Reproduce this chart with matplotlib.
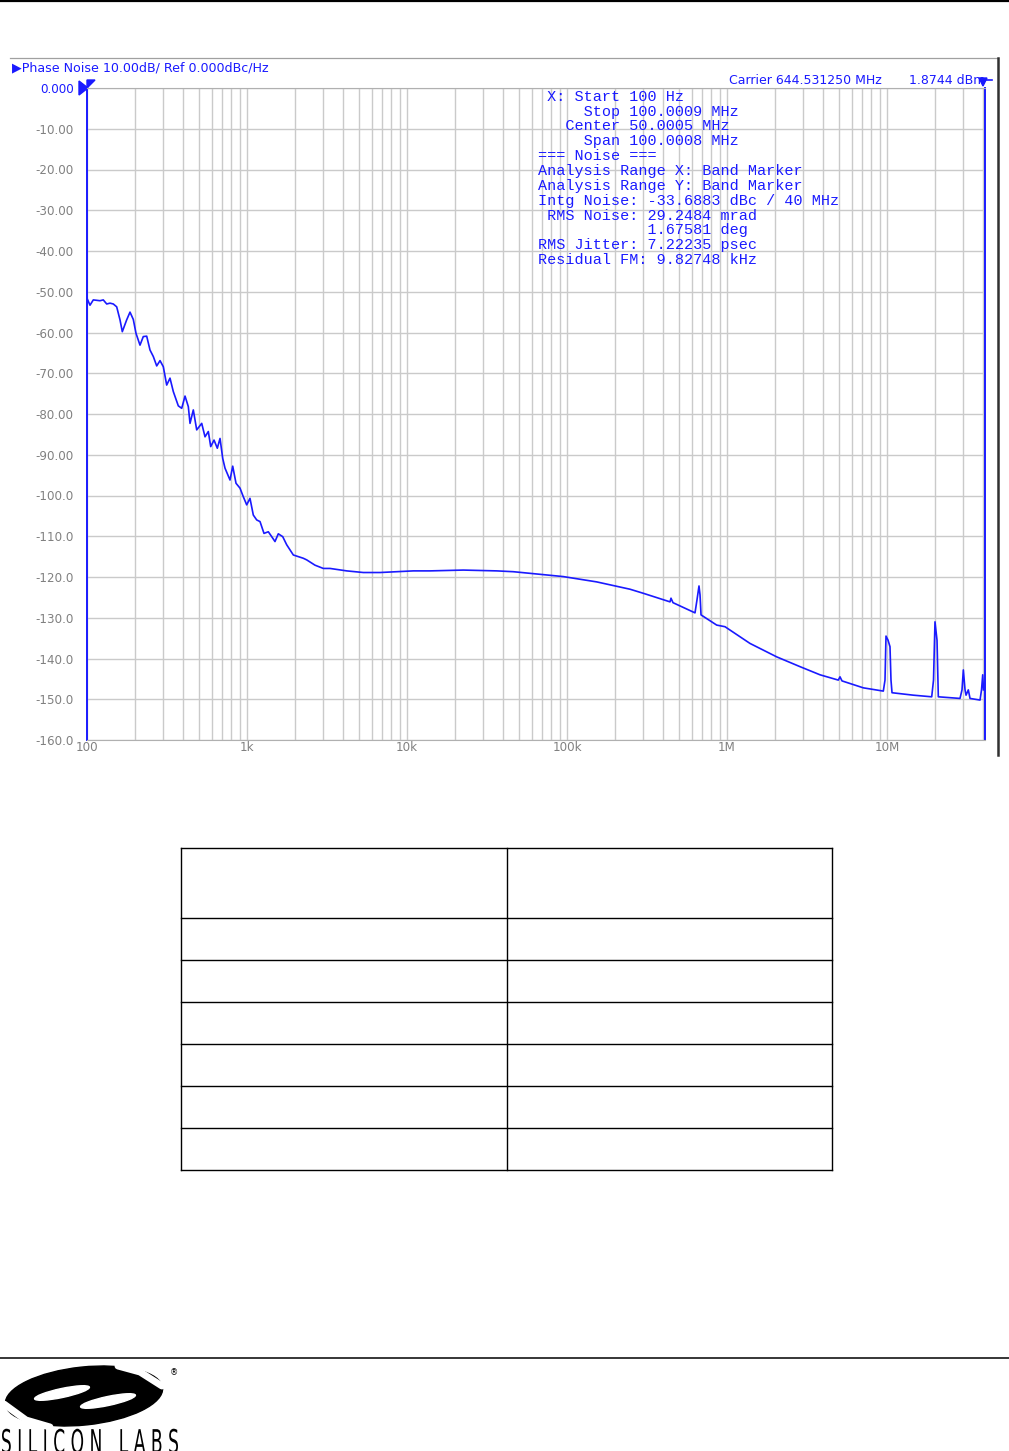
import matplotlib
matplotlib.use("Agg")
import matplotlib.pyplot as plt
from matplotlib.patches import Ellipse, Polygon, PathPatch
from matplotlib.textpath import TextPath
from matplotlib.font_manager import FontProperties
from matplotlib.transforms import Affine2D
from matplotlib.ticker import FixedLocator, LogLocator, NullFormatter

W, H = 1009, 1451

# phase noise trace
freq_hz = [100, 104.4, 109.5, 120.6, 126.4, 132.8, 139.3, 146.0, 153.3, 160.8,
           166.2, 177.0, 185.7, 194.7, 202.4, 214.4, 224.8, 236.1, 247.6, 259.7,
           272.7, 286.0, 299.9, 314.8, 330.2, 346.3, 372.1, 390.8, 409.9, 429.8,
           440.4, 461.8, 484.9, 521.2, 546.5, 573.1, 593.2, 622.2, 652.4, 678.3,
           705.1, 728.8, 783.1, 814.1, 853.7, 904.3, 948.2, 995.7, 1044, 1095,
           1150, 1206, 1277, 1359, 1427, 1496, 1569, 1672, 1771, 1948,
           2248, 2361, 2661, 2999, 3303, 4199, 5333, 6781, 8620, 10950,
           13920, 22480, 36360, 46170, 58720, 74660, 94830, 153300, 247600, 299900,
           440400, 446700, 459700, 631000, 649400, 668300, 678300, 688100, 862000, 971600,
           1.392e6, 2.045e6, 2.859e6, 3.814e6, 4.962e6, 5.085e6, 5.234e6, 7.111e6, 9.483e6, 9.716e6,
           9.857e6, 1.015e7, 1.044e7, 1.059e7, 1.075e7, 1.460e7, 1.903e7, 1.953e7, 1.995e7, 2.054e7,
           2.093e7, 2.859e7, 2.943e7, 3.0e7, 3.074e7, 3.119e7, 3.223e7, 3.303e7, 3.814e7, 3.897e7,
           3.965e7, 4.011e7]
pn_dbc = [-51.6, -53.3, -52.0, -52.2, -52.0, -53.0, -52.8, -53.0, -53.7, -56.9,
          -59.8, -56.9, -55.0, -56.8, -60.2, -63.1, -61.0, -60.9, -64.3, -65.9,
          -68.2, -66.9, -68.4, -72.9, -71.2, -74.5, -78.0, -78.6, -75.6, -78.2,
          -82.3, -79.0, -83.9, -82.3, -85.6, -84.3, -88.0, -86.4, -88.4, -86.0,
          -90.9, -93.3, -96.2, -92.8, -97.0, -98.2, -100.3, -102.3, -100.7, -104.8,
          -106.0, -106.4, -109.3, -108.9, -110.1, -111.3, -109.4, -110.1, -112.1, -114.6,
          -115.4, -115.8, -117.1, -117.9, -117.9, -118.5, -118.9, -118.9, -118.7, -118.5,
          -118.5, -118.3, -118.5, -118.7, -119.1, -119.5, -119.9, -121.2, -123.0, -124.0,
          -126.1, -125.2, -126.3, -128.8, -125.6, -122.2, -124.4, -129.3, -131.8, -132.2,
          -136.3, -139.6, -142.0, -144.0, -145.3, -144.5, -145.5, -147.2, -148.0, -145.3,
          -134.5, -135.5, -137.1, -145.3, -148.4, -149.0, -149.4, -145.3, -131.0, -135.5,
          -149.4, -149.8, -147.7, -142.8, -147.7, -149.0, -147.7, -149.8, -150.2, -147.7,
          -144.0, -147.7]

y_ticks = [0, -10, -20, -30, -40, -50, -60, -70, -80, -90,
           -100, -110, -120, -130, -140, -150, -160]
y_labels = ["0.000", "-10.00", "-20.00", "-30.00", "-40.00", "-50.00", "-60.00",
            "-70.00", "-80.00", "-90.00", "-100.0", "-110.0", "-120.0", "-130.0",
            "-140.0", "-150.0", "-160.0"]
x_ticks = [1e2, 1e3, 1e4, 1e5, 1e6, 1e7]
x_labels = ["100", "1k", "10k", "100k", "1M", "10M"]

marker_lines = [" X: Start 100 Hz",
                "     Stop 100.0009 MHz",
                "   Center 50.0005 MHz",
                "     Span 100.0008 MHz",
                "=== Noise ===",
                "Analysis Range X: Band Marker",
                "Analysis Range Y: Band Marker",
                "Intg Noise: -33.6883 dBc / 40 MHz",
                " RMS Noise: 29.2484 mrad",
                "            1.67581 deg",
                "RMS Jitter: 7.22235 psec",
                "Residual FM: 9.82748 kHz"]

table_rows = [70, 42, 42, 42, 42, 42, 42]
table_cols = [326, 325]

blue = "#1a1aff"
grid_c = "#cacaca"


def px(x, y):
    # page pixel -> figure fraction
    return x / W, 1 - y / H


fig = plt.figure(figsize=(W / 100, H / 100), dpi=100)

# page layer in pixel coordinates
page = fig.add_axes([0, 0, 1, 1])
page.set_xlim(0, W)
page.set_ylim(H, 0)
page.axis("off")

page.plot([0, W], [1, 1], color="black", lw=1.6)
page.plot([0, W], [1358, 1358], color="black", lw=1.1)

# instrument screen frame
page.plot([10, 998], [58, 58], color="#a0a0a0", lw=0.9)
page.plot([998, 998], [58, 755], color="#303030", lw=1.8)

page.text(12, 68, "\u25b6Phase Noise 10.00dB/ Ref 0.000dBc/Hz", color=blue,
          fontsize=9.1, va="center", ha="left")
page.text(729, 81, "Carrier 644.531250 MHz", color=blue, fontsize=9.0,
          va="center", ha="left")
page.text(985, 81, "1.8744 dBm", color=blue, fontsize=9.0, va="center", ha="right")
page.plot([980, 992], [80, 80], color=blue, lw=1.2)
page.add_patch(Polygon([[979, 78], [987, 78], [983, 86]], closed=True, color=blue))
page.add_patch(Polygon([[79, 81], [79, 95], [88, 88]], closed=True, color=blue))
page.add_patch(Polygon([[87, 80], [95, 80], [87, 88]], closed=True, color=blue))

# empty table below the plot
tx0, ty0 = 181, 848
tx1 = tx0 + sum(table_cols)
edges = [ty0]
for h in table_rows:
    edges.append(edges[-1] + h)
for yy in edges:
    page.plot([tx0, tx1], [yy, yy], color="black", lw=1.0)
for xv in [tx0, tx0 + table_cols[0], tx1]:
    page.plot([xv, xv], [ty0, edges[-1]], color="black", lw=1.0)

# logo (rough)
page.add_patch(Ellipse((84, 1396), 158, 58, angle=-6, color="black"))
page.add_patch(Ellipse((62, 1393), 56, 9, angle=-12, color="white"))
page.add_patch(Ellipse((108, 1401), 56, 9, angle=-12, color="white"))
page.plot([118, 140, 162], [1366, 1372, 1386], color="white", lw=5, solid_capstyle="round")
page.plot([4, 26, 50], [1404, 1420, 1427], color="white", lw=5, solid_capstyle="round")
page.text(174, 1373, "\u00ae", fontsize=6, ha="center", va="center")

tp = TextPath((0, 0), "S I L I C O N   L A B S", size=30,
              prop=FontProperties(family="DejaVu Sans", weight="normal"))
ext = tp.get_extents()
sx = 176 / ext.width
sy = 24 / 22.0
tr = Affine2D().translate(-ext.x0, 0).scale(sx, -sy).translate(2, 1453) + page.transData
page.add_patch(PathPatch(tp, transform=tr, color="black", lw=0))

# phase noise plot
ax = fig.add_axes([87 / W, 1 - 740 / H, (985 - 87) / W, (740 - 88) / H])
ax.set_facecolor("white")
ax.semilogx(freq_hz, pn_dbc, color=blue, lw=1.2, zorder=3)
ax.set_xlim(100, 10 ** (2 + 898 / 160))
ax.set_ylim(-160, 0)

ax.xaxis.set_major_locator(FixedLocator(x_ticks))
ax.set_xticklabels(x_labels)
ax.xaxis.set_minor_locator(LogLocator(base=10, subs=range(2, 10), numticks=20))
ax.xaxis.set_minor_formatter(NullFormatter())
ax.set_yticks(y_ticks)
ax.set_yticklabels(y_labels)
ax.grid(which="both", axis="x", color=grid_c, lw=1.0)
ax.grid(which="major", axis="y", color=grid_c, lw=1.0)
ax.set_axisbelow(True)

ax.tick_params(axis="both", which="both", length=0, colors="#808080", labelsize=8.6)
ax.tick_params(axis="y", pad=9.5)
ax.tick_params(axis="x", pad=1)
ax.get_yticklabels()[0].set_color(blue)

ax.spines["left"].set_color(blue)
ax.spines["left"].set_linewidth(1.4)
ax.spines["right"].set_color(blue)
ax.spines["right"].set_linewidth(1.4)
ax.spines["top"].set_color("#b0b0b0")
ax.spines["bottom"].set_color("#b0b0b0")

# marker readout drawn over the plot
for i, line in enumerate(marker_lines):
    fig.text(*px(538, 96.7 + i * 14.85), line, family="Liberation Mono",
             fontsize=10.9, color=blue, va="center", ha="left", zorder=5)

fig.savefig("out.png", dpi=100)
